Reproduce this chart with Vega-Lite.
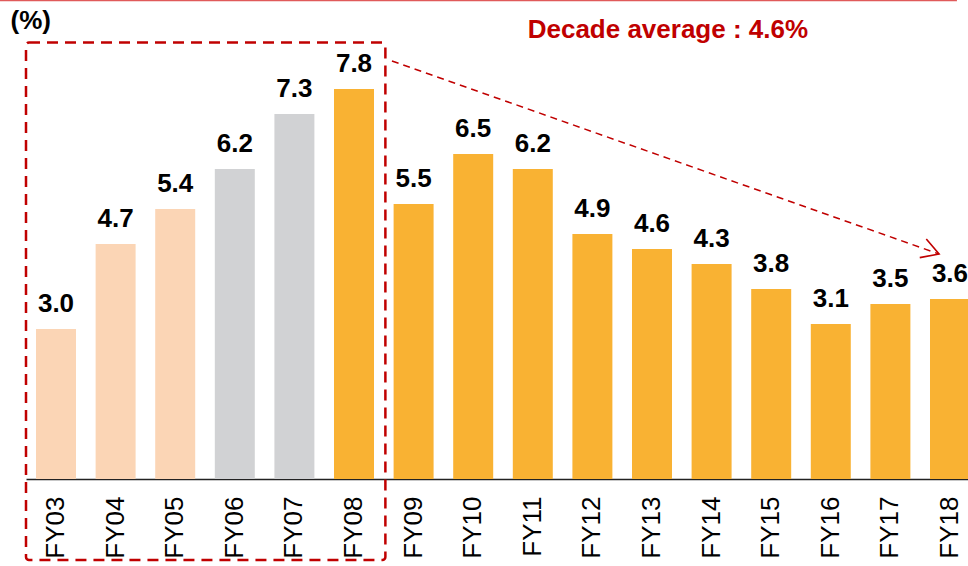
{
  "$schema": "https://vega.github.io/schema/vega-lite/v6.json",
  "width": 942,
  "height": 479,
  "autosize": {"type": "none"},
  "padding": {"left": 26, "top": 0, "right": 0, "bottom": 87},
  "background": "white",
  "config": {"view": {"stroke": null}, "font": "Liberation Sans"},
  "layer": [
    {
      "data": {"values": [
        {"fy": "FY03", "v": 3.0, "grp": "a"},
        {"fy": "FY04", "v": 4.7, "grp": "a"},
        {"fy": "FY05", "v": 5.4, "grp": "a"},
        {"fy": "FY06", "v": 6.2, "grp": "b"},
        {"fy": "FY07", "v": 7.3, "grp": "b"},
        {"fy": "FY08", "v": 7.8, "grp": "c"},
        {"fy": "FY09", "v": 5.5, "grp": "c"},
        {"fy": "FY10", "v": 6.5, "grp": "c"},
        {"fy": "FY11", "v": 6.2, "grp": "c"},
        {"fy": "FY12", "v": 4.9, "grp": "c"},
        {"fy": "FY13", "v": 4.6, "grp": "c"},
        {"fy": "FY14", "v": 4.3, "grp": "c"},
        {"fy": "FY15", "v": 3.8, "grp": "c"},
        {"fy": "FY16", "v": 3.1, "grp": "c"},
        {"fy": "FY17", "v": 3.5, "grp": "c"},
        {"fy": "FY18", "v": 3.6, "grp": "c"}
      ]},
      "encoding": {
        "x": {
          "field": "fy", "type": "nominal", "sort": null,
          "scale": {"range": [0, 954], "paddingInner": 0.329, "paddingOuter": 0.168},
          "axis": {"title": null, "labelAngle": -90, "labelFontSize": 26, "labelColor": "#000", "labelPadding": 17, "ticks": false, "domainColor": "#222", "domainWidth": 1.5, "labelFont": "Liberation Sans"}
        },
        "y": {"field": "v", "type": "quantitative", "scale": {"domain": [0, 9.58], "nice": false, "zero": false}, "axis": null}
      },
      "layer": [
        {"mark": {"type": "bar"}, "encoding": {"color": {"field": "grp", "type": "nominal", "scale": {"domain": ["a", "b", "c"], "range": ["#FBD5B5", "#D1D2D4", "#F9B233"]}, "legend": null}}},
        {"mark": {"type": "text", "fontSize": 26, "fontWeight": "bold", "baseline": "alphabetic", "dy": -17, "color": "#000"}, "encoding": {"text": {"field": "v", "type": "quantitative", "format": ".1f"}}}
      ]
    },
    {
      "layer": [
        {
          "data": {"values": [{"x1": 0, "x2": 6.03, "y1": 8.73, "y2": -1.62}]},
          "mark": {"type": "rect", "fill": "transparent", "stroke": "#C00000", "strokeWidth": 2.5, "strokeDash": [11, 7], "cornerRadius": 3, "clip": false},
          "encoding": {
            "x": {"field": "x1", "type": "quantitative", "scale": {"domain": [0, 16.007], "range": [0, 954], "nice": false, "zero": false}, "axis": null},
            "x2": {"field": "x2"},
            "y": {"field": "y1", "type": "quantitative", "scale": {"domain": [0, 9.58], "nice": false, "zero": false}, "axis": null},
            "y2": {"field": "y2"}
          }
        },
        {
          "data": {"values": [{"x": 6.14, "y": 8.36}, {"x": 15.32, "y": 4.5}]},
          "mark": {"type": "line", "stroke": "#C00000", "strokeWidth": 1.5, "strokeDash": [7, 5]},
          "encoding": {
            "x": {"field": "x", "type": "quantitative", "axis": null},
            "y": {"field": "y", "type": "quantitative", "axis": null}
          }
        },
        {
          "data": {"values": [{"x": 15.32, "y": 4.5}]},
          "mark": {"type": "point", "shape": "M-1,-0.58L0,0L-1,0.58", "size": 1156, "angle": 19.4, "filled": false, "stroke": "#C00000", "strokeWidth": 1.6, "opacity": 1},
          "encoding": {
            "x": {"field": "x", "type": "quantitative", "axis": null},
            "y": {"field": "y", "type": "quantitative", "axis": null}
          }
        },
        {
          "data": {"values": [{"x1": -0.44, "x2": 15.62, "y": 9.57}]},
          "mark": {"type": "rule", "stroke": "#E05A5A", "strokeWidth": 1.5},
          "encoding": {
            "x": {"field": "x1", "type": "quantitative", "axis": null},
            "x2": {"field": "x2"},
            "y": {"field": "y", "type": "quantitative", "axis": null}
          }
        },
        {
          "data": {"values": [{"x": 0.08, "y": 9.0, "t": "(%)"}]},
          "mark": {"type": "text", "fontSize": 26, "fontWeight": "bold", "color": "#000", "align": "center", "baseline": "alphabetic"},
          "encoding": {
            "x": {"field": "x", "type": "quantitative", "axis": null},
            "y": {"field": "y", "type": "quantitative", "axis": null},
            "text": {"field": "t"}
          }
        },
        {
          "data": {"values": [{"x": 10.77, "y": 8.83, "t": "Decade average : 4.6%"}]},
          "mark": {"type": "text", "fontSize": 26, "fontWeight": "bold", "color": "#C00000", "align": "center", "baseline": "alphabetic"},
          "encoding": {
            "x": {"field": "x", "type": "quantitative", "axis": null},
            "y": {"field": "y", "type": "quantitative", "axis": null},
            "text": {"field": "t"}
          }
        }
      ]
    }
  ],
  "resolve": {"scale": {"x": "independent"}, "axis": {"x": "independent"}}
}
